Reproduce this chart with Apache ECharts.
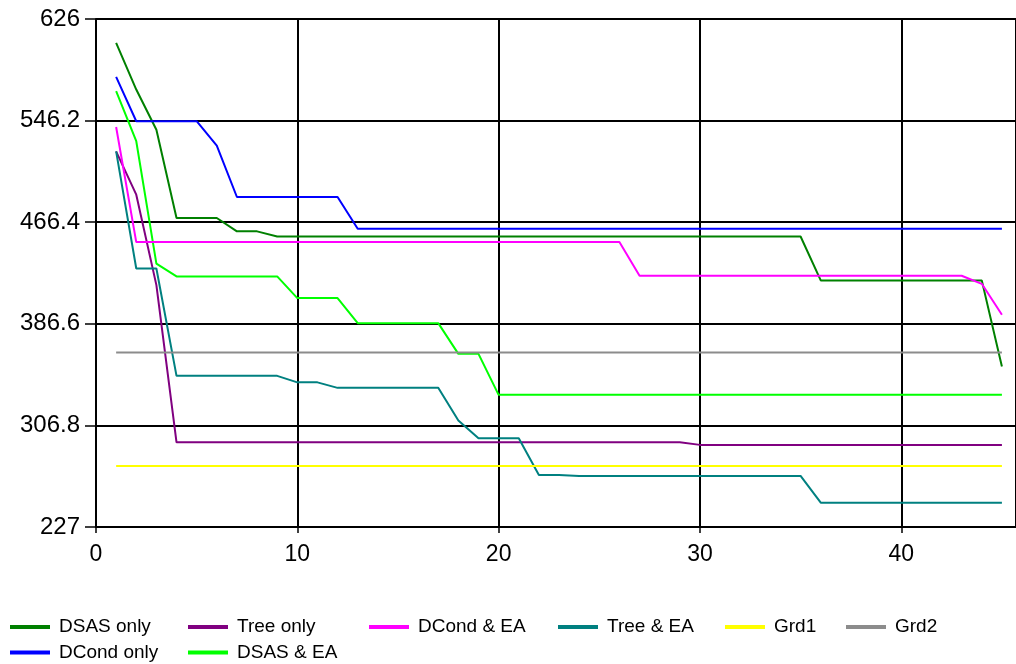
<!DOCTYPE html>
<html>
<head>
<meta charset="utf-8">
<script src="https://cdn.jsdelivr.net/npm/echarts@6/dist/echarts.min.js"></script>
<style>
html,body{margin:0;padding:0;background:#fff;}
#chart{width:1016px;height:664px;}
</style>
</head>
<body>
<div id="chart"></div>
<script>
// iteration index 1..45
var iterations = [];
for (var k = 1; k <= 45; k++) iterations.push(k);

var yTicks = [227, 306.8, 386.6, 466.4, 546.2, 626];
var xTicks = [0, 10, 20, 30, 40];

var dsasOnly = [607.3, 570.6, 539.0, 469.7, 469.7, 469.7, 459.2, 459.2,
  455.2, 455.2, 455.2, 455.2, 455.2, 455.2, 455.2, 455.2, 455.2, 455.2,
  455.2, 455.2, 455.2, 455.2, 455.2, 455.2, 455.2, 455.2, 455.2, 455.2,
  455.2, 455.2, 455.2, 455.2, 455.2, 455.2, 455.2,
  420.7, 420.7, 420.7, 420.7, 420.7, 420.7, 420.7, 420.7, 420.7, 353.0];

var dcondOnly = [580.5, 545.7, 545.7, 545.7, 545.7, 526.5,
  486.2, 486.2, 486.2, 486.2, 486.2, 486.2,
  461.3, 461.3, 461.3, 461.3, 461.3, 461.3, 461.3, 461.3, 461.3, 461.3,
  461.3, 461.3, 461.3, 461.3, 461.3, 461.3, 461.3, 461.3, 461.3, 461.3,
  461.3, 461.3, 461.3, 461.3, 461.3, 461.3, 461.3, 461.3, 461.3, 461.3,
  461.3, 461.3, 461.3];

var treeOnly = [522.0, 488.0, 417.0,
  293.5, 293.5, 293.5, 293.5, 293.5, 293.5, 293.5, 293.5, 293.5, 293.5,
  293.5, 293.5, 293.5, 293.5, 293.5, 293.5, 293.5, 293.5, 293.5, 293.5,
  293.5, 293.5, 293.5, 293.5, 293.5, 293.5,
  291.5, 291.5, 291.5, 291.5, 291.5, 291.5, 291.5, 291.5, 291.5, 291.5,
  291.5, 291.5, 291.5, 291.5, 291.5, 291.5];

var dsasEA = [569.3, 530.0, 433.8, 423.8, 423.8, 423.8, 423.8, 423.8, 423.8,
  406.8, 406.8, 406.8, 387.1, 387.1, 387.1, 387.1, 387.1, 363.0, 363.0,
  330.8, 330.8, 330.8, 330.8, 330.8, 330.8, 330.8, 330.8, 330.8, 330.8,
  330.8, 330.8, 330.8, 330.8, 330.8, 330.8, 330.8, 330.8, 330.8, 330.8,
  330.8, 330.8, 330.8, 330.8, 330.8, 330.8];

var dcondEA = [541.2,
  450.8, 450.8, 450.8, 450.8, 450.8, 450.8, 450.8, 450.8, 450.8, 450.8,
  450.8, 450.8, 450.8, 450.8, 450.8, 450.8, 450.8, 450.8, 450.8, 450.8,
  450.8, 450.8, 450.8, 450.8, 450.8,
  424.3, 424.3, 424.3, 424.3, 424.3, 424.3, 424.3, 424.3, 424.3, 424.3,
  424.3, 424.3, 424.3, 424.3, 424.3, 424.3, 424.3, 418.0, 393.7];

var treeEA = [522.0, 430.0, 430.0, 345.7, 345.7, 345.7, 345.7, 345.7, 345.7,
  340.6, 340.6, 336.3, 336.3, 336.3, 336.3, 336.3, 336.3, 310.6,
  296.7, 296.7, 296.7, 267.9, 267.9,
  267.1, 267.1, 267.1, 267.1, 267.1, 267.1, 267.1, 267.1, 267.1, 267.1,
  267.1, 267.1,
  246.1, 246.1, 246.1, 246.1, 246.1, 246.1, 246.1, 246.1, 246.1, 246.1];

var grd1 = [];
var grd2 = [];
for (var k2 = 0; k2 < 45; k2++) { grd1.push(275.0); grd2.push(364.0); }

var seriesNames = ['DSAS only', 'DCond only', 'Tree only', 'DSAS & EA',
  'DCond & EA', 'Tree & EA', 'Grd1', 'Grd2'];
var seriesValues = [dsasOnly, dcondOnly, treeOnly, dsasEA, dcondEA, treeEA, grd1, grd2];
var seriesColors = ['#008000', '#0000ff', '#800080', '#00ff00',
  '#ff00ff', '#008080', '#ffff00', '#8c8c8c'];

var legendColumns = [
  ['DSAS only', 'DCond only'],
  ['Tree only', 'DSAS & EA'],
  ['DCond & EA'],
  ['Tree & EA'],
  ['Grd1'],
  ['Grd2']
];
var legendLefts = [10, 188, 369, 558, 725, 846];

var FONT = 'Liberation Sans, Arial, sans-serif';

var series = seriesNames.map(function (name, si) {
  return {
    name: name,
    type: 'line',
    showSymbol: false,
    symbol: 'none',
    animation: false,
    color: seriesColors[si],
    lineStyle: { width: 2, color: seriesColors[si] },
    data: iterations.map(function (x, i) { return [x, seriesValues[si][i]]; })
  };
});

var legends = legendColumns.map(function (col, ci) {
  return {
    data: col,
    orient: 'vertical',
    left: legendLefts[ci],
    top: 617,
    padding: 0,
    itemGap: 5.6,
    itemWidth: 40,
    itemHeight: 4,
    icon: 'rect',
    selectedMode: false,
    textStyle: { fontFamily: FONT, fontSize: 19, color: '#000', lineHeight: 20, padding: [0, 0, 0, 4] }
  };
});

function fmt(v) {
  var r = Math.round(v * 10) / 10;
  return String(r);
}

var chart = echarts.init(document.getElementById('chart'));
chart.setOption({
  backgroundColor: '#ffffff',
  animation: false,
  grid: { left: 96, top: 19, right: 0, bottom: 137, containLabel: false },
  legend: legends,
  xAxis: {
    type: 'value',
    min: 0,
    max: 45.7,
    interval: 10,
    axisLine: { show: true, lineStyle: { color: '#000', width: 2 } },
    axisTick: { show: true, length: 6, lineStyle: { color: '#000', width: 1.5 } },
    axisLabel: {
      fontFamily: FONT, fontSize: 23, color: '#000', margin: 16,
      showMaxLabel: false,
      formatter: function (v) { return xTicks.indexOf(Math.round(v)) >= 0 && Math.abs(v - Math.round(v)) < 1e-6 ? String(Math.round(v)) : ''; }
    },
    splitLine: { show: true, lineStyle: { color: '#000', width: 2 } }
  },
  yAxis: {
    type: 'value',
    min: yTicks[0],
    max: yTicks[yTicks.length - 1],
    interval: 79.8,
    axisLine: { show: true, lineStyle: { color: '#000', width: 2 } },
    axisTick: { show: true, length: 11, lineStyle: { color: '#000', width: 1.5 } },
    axisLabel: {
      fontFamily: FONT, fontSize: 24, color: '#000', margin: 16,
      formatter: function (v) { return fmt(v); }
    },
    splitLine: { show: true, lineStyle: { color: '#000', width: 2 } }
  },
  series: series
});
</script>
</body>
</html>
